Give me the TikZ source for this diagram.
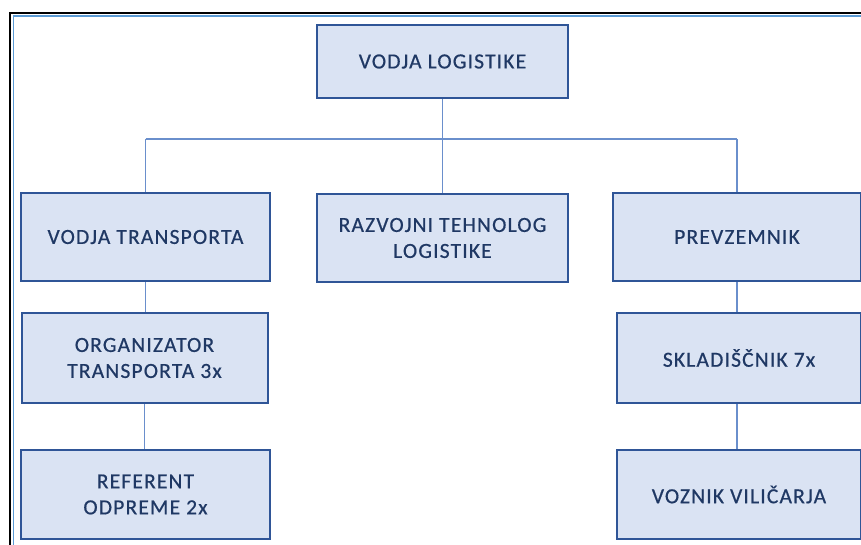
\documentclass[tikz,border=0pt]{standalone}
\usepackage{fontspec}
\setmainfont{Carlito}
\newfontfamily\boxfont[LetterSpace=5.5,FakeBold=0.6]{Carlito}
\definecolor{boxfill}{HTML}{DAE3F3}
\definecolor{boxline}{HTML}{2F5597}
\definecolor{boxtext}{HTML}{1F3864}
\definecolor{conn}{HTML}{6A8FCC}
\definecolor{frameblue}{HTML}{5B9BD5}
\begin{document}
\begin{tikzpicture}[x=1pt,y=-1pt,
  orgbox/.style={draw=boxline, line width=2pt, fill=boxfill, text=boxtext,
    align=center, inner sep=0pt, font=\boxfont\fontsize{21.5}{26}\selectfont},
  link/.style={draw=conn, line width=1.3pt}]
\useasboundingbox (0,0) rectangle (861,545);
\begin{scope}
\clip (0,0) rectangle (861,545);
\draw[line width=2.6pt, black] (10,600) -- (10,13) -- (900,13);
\draw[line width=1.6pt, frameblue] (13.5,600) -- (13.5,16) -- (900,16);
\end{scope}
% connectors
\coordinate (bus) at (0,139);
% boxes
\node[orgbox, minimum width=251, minimum height=73] (vl) at (442.5,61.5) {VODJA LOGISTIKE};
\node[orgbox, minimum width=249, minimum height=88] (vt) at (145.5,237) {\raisebox{-1.5pt}{VODJA TRANSPORTA}};
\node[orgbox, minimum width=251, minimum height=88] (rt) at (442.5,238) {RAZVOJNI TEHNOLOG\\LOGISTIKE};
\node[orgbox, minimum width=248, minimum height=88] (pr) at (737,237) {\raisebox{-1.5pt}{PREVZEMNIK}};
\node[orgbox, minimum width=246, minimum height=90] (ot) at (144.5,358) {ORGANIZATOR\\TRANSPORTA 3x};
\node[orgbox, minimum width=244, minimum height=90] (sk) at (739,358) {SKLADIŠČNIK 7x};
\node[orgbox, minimum width=249, minimum height=89] (re) at (145.5,494.5) {REFERENT\\ODPREME 2x};
\node[orgbox, minimum width=244, minimum height=89] (vv) at (739,494.5) {VOZNIK VILIČARJA};
\draw[link] (vl.south) -- (vl.south |- bus);
\draw[link] (vt.north |- bus) -- (pr.north |- bus);
\draw[link] (vt.north) -- (vt.north |- bus);
\draw[link] (rt.north) -- (rt.north |- bus);
\draw[link] (pr.north) -- (pr.north |- bus);
\draw[link] (vt.south) -- (vt.south |- ot.north);
\draw[link] (ot.south) -- (ot.south |- re.north);
\draw[link] (pr.south) -- (pr.south |- sk.north);
\draw[link] (pr.south |- sk.south) -- (pr.south |- vv.north);
\end{tikzpicture}
\end{document}
